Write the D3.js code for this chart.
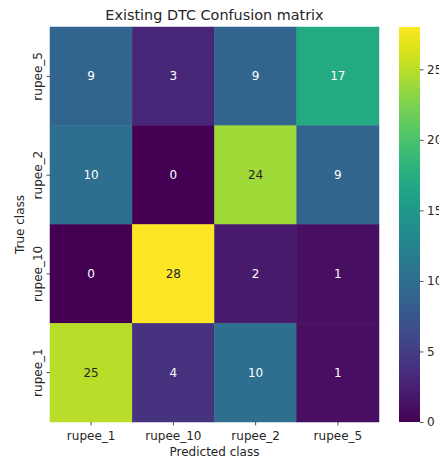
<!DOCTYPE html>
<html>
<head>
<meta charset="utf-8">
<script src="https://cdn.jsdelivr.net/npm/d3@7"></script>
<style>
  body { margin: 0; background: #fff; }
  text { font-family: "DejaVu Sans", sans-serif; }
</style>
</head>
<body>
<script>
// confusion matrix values, rows = true class (top to bottom), cols = predicted class
var predLabels = ["rupee_1", "rupee_10", "rupee_2", "rupee_5"];
var trueLabels = ["rupee_5", "rupee_2", "rupee_10", "rupee_1"];
var counts = [
  [9, 3, 9, 17],
  [10, 0, 24, 9],
  [0, 28, 2, 1],
  [25, 4, 10, 1]
];
var cbarTicks = [0, 5, 10, 15, 20, 25];

var W = 439, H = 461;
var plot = {left: 50, top: 27, right: 379, bottom: 422};

var svg = d3.select("body").append("svg")
    .attr("width", W)
    .attr("height", H);

var x = d3.scaleBand().domain(predLabels).range([plot.left, plot.right]);
var y = d3.scaleBand().domain(trueLabels).range([plot.top, plot.bottom]);
var maxV = d3.max(counts, function(r) { return d3.max(r); });
var color = d3.scaleSequential(d3.interpolateViridis).domain([0, maxV]);

var cells = [];
counts.forEach(function(row, i) {
  row.forEach(function(v, j) {
    cells.push({t: trueLabels[i], p: predLabels[j], v: v});
  });
});

// seaborn style text colour choice
function textColor(v) {
  var c = d3.rgb(color(v));
  var lin = [c.r, c.g, c.b].map(function(u) {
    u = u / 255;
    return u <= 0.03928 ? u / 12.92 : Math.pow((u + 0.055) / 1.055, 2.4);
  });
  var lum = 0.2126 * lin[0] + 0.7152 * lin[1] + 0.0722 * lin[2];
  return lum > 0.408 ? "#262626" : "#ffffff";
}

svg.selectAll("rect.cell")
  .data(cells)
  .enter().append("rect")
    .attr("class", "cell")
    .attr("x", function(d) { return x(d.p); })
    .attr("y", function(d) { return y(d.t); })
    .attr("width", x.bandwidth())
    .attr("height", y.bandwidth())
    .attr("fill", function(d) { return color(d.v); })
    .attr("stroke", function(d) { return color(d.v); })
    .attr("stroke-width", 0.5);

svg.selectAll("text.val")
  .data(cells)
  .enter().append("text")
    .attr("class", "val")
    .attr("x", function(d) { return x(d.p) + x.bandwidth() / 2; })
    .attr("y", function(d) { return y(d.t) + y.bandwidth() / 2; })
    .attr("text-anchor", "middle")
    .attr("dominant-baseline", "central")
    .attr("font-size", 12)
    .attr("fill", function(d) { return textColor(d.v); })
    .text(function(d) { return d.v; });

// axes
var xAxis = svg.append("g")
    .attr("transform", "translate(0," + plot.bottom + ")")
    .call(d3.axisBottom(x).tickSize(3.5).tickPadding(3.5));
var yAxis = svg.append("g")
    .attr("transform", "translate(" + plot.left + ",0)")
    .call(d3.axisLeft(y).tickSize(3.5).tickPadding(3.5));
[xAxis, yAxis].forEach(function(g) {
  g.select(".domain").remove();
  g.selectAll(".tick line").attr("stroke", "#262626").attr("stroke-width", 0.8);
  g.selectAll(".tick text")
    .attr("font-family", "DejaVu Sans")
    .attr("font-size", 12)
    .attr("fill", "#262626");
});
xAxis.selectAll(".tick text").attr("dy", "0.9em");
yAxis.selectAll(".tick text")
    .attr("transform", "rotate(-90)")
    .attr("x", 0)
    .attr("y", -8)
    .attr("dy", 0)
    .attr("text-anchor", "middle")
    .attr("dominant-baseline", "auto");
yAxis.selectAll(".tick").each(function() {
  d3.select(this).select("text").attr("y", -8);
});

svg.append("text")
    .attr("x", (plot.left + plot.right) / 2)
    .attr("y", 456)
    .attr("text-anchor", "middle")
    .attr("font-size", 12)
    .attr("fill", "#262626")
    .text("Predicted class");

svg.append("text")
    .attr("transform", "translate(24," + (plot.top + plot.bottom) / 2 + ") rotate(-90)")
    .attr("text-anchor", "middle")
    .attr("font-size", 12)
    .attr("fill", "#262626")
    .text("True class");

svg.append("text")
    .attr("x", (plot.left + plot.right) / 2)
    .attr("y", 20)
    .attr("text-anchor", "middle")
    .attr("font-size", 14.4)
    .attr("fill", "#262626")
    .text("Existing DTC Confusion matrix");

// colorbar
var cb = {left: 399, width: 21};
var cy = d3.scaleLinear().domain([0, maxV]).range([plot.bottom, plot.top]);
var grad = svg.append("defs").append("linearGradient")
    .attr("id", "cbar")
    .attr("x1", 0).attr("y1", 1).attr("x2", 0).attr("y2", 0);
d3.range(0, 1.0001, 0.05).forEach(function(t) {
  grad.append("stop")
    .attr("offset", t)
    .attr("stop-color", d3.interpolateViridis(t));
});
svg.append("rect")
    .attr("x", cb.left)
    .attr("y", plot.top)
    .attr("width", cb.width)
    .attr("height", plot.bottom - plot.top)
    .attr("fill", "url(#cbar)");

var cAxis = svg.append("g")
    .attr("transform", "translate(" + (cb.left + cb.width) + ",0)")
    .call(d3.axisRight(cy).tickValues(cbarTicks).tickSize(3.5).tickPadding(3.5));
cAxis.select(".domain").remove();
cAxis.selectAll(".tick line").attr("stroke", "#262626").attr("stroke-width", 0.8);
cAxis.selectAll(".tick text")
    .attr("font-family", "DejaVu Sans")
    .attr("font-size", 12)
    .attr("fill", "#262626");
</script>
</body>
</html>
